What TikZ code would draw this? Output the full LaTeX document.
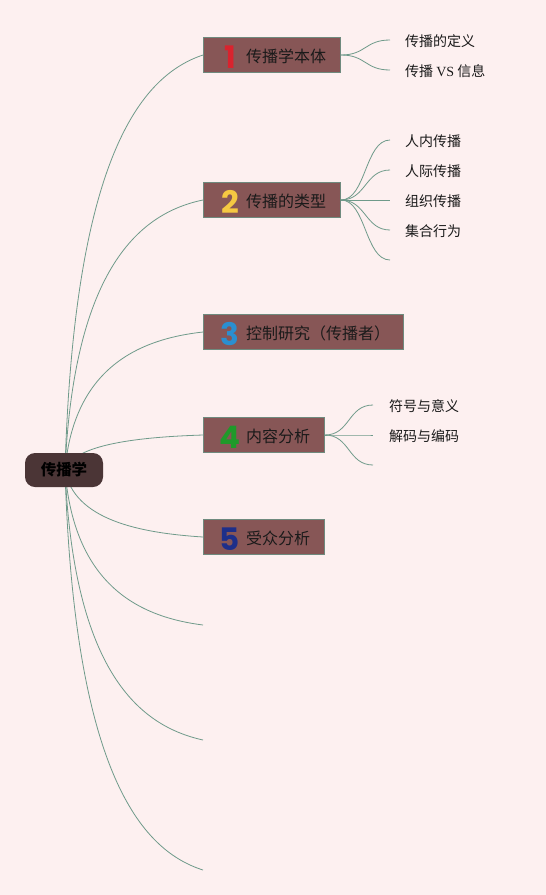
\documentclass[tikz,border=0pt]{standalone}
\usepackage{fontspec}
\setmainfont{Noto Sans CJK SC}
\newfontfamily\numfont{Poppins}[UprightFont={* Bold}]
\newfontfamily\vsfont{Liberation Serif}
\definecolor{bgc}{HTML}{FDF0F0}
\definecolor{linec}{HTML}{6F9A8A}
\definecolor{boxc}{HTML}{875656}
\definecolor{boxline}{HTML}{6F8A7E}
\definecolor{rootc}{HTML}{4B3536}
\definecolor{txtc}{HTML}{1A1A1A}
\definecolor{n1}{HTML}{D9232E}
\definecolor{n2}{HTML}{F5C842}
\definecolor{n3}{HTML}{2A8FD0}
\definecolor{n4}{HTML}{1F9A2A}
\definecolor{n5}{HTML}{1E2F8A}
\tikzset{
  conn/.style={draw=linec, line width=0.8pt},
  topic/.style={draw=boxline, line width=1pt, fill=boxc, minimum height=35pt, inner sep=0pt, anchor=west},
  numlbl/.style={font=\numfont\fontsize{31}{31}\selectfont, inner sep=0pt},
  toplbl/.style={font=\fontsize{16}{16}\selectfont, text=txtc, inner sep=0pt, anchor=west},
  sublbl/.style={font=\fontsize{14}{14}\selectfont, text=txtc, inner sep=0pt, anchor=west},
  rootbox/.style={fill=rootc, rounded corners=10pt, minimum width=78pt, minimum height=34pt, inner sep=0pt, font=\bfseries\fontsize{15.5}{15.5}\selectfont, text=black}
}
\begin{document}
\begin{tikzpicture}[x=1pt,y=-1pt]
\fill[bgc] (0,0) rectangle (546,895);
\useasboundingbox (0,0) rectangle (546,895);
\coordinate (hub) at (65,470);
% topic boxes
\node[topic, minimum width=137pt] (b1) at (203,55) {};
\node[topic, minimum width=137pt] (b2) at (203,200) {};
\node[topic, minimum width=200pt] (b3) at (203,332) {};
\node[topic, minimum width=121pt] (b4) at (203,435) {};
\node[topic, minimum width=121pt] (b5) at (203,537) {};
\node[numlbl, text=n1] (k1) at (230,57) {1};
\node[numlbl, text=n2] (k2) at (230,202) {2};
\node[numlbl, text=n3] (k3) at (230,334) {3};
\node[numlbl, text=n4] (k4) at (230,437) {4};
\node[numlbl, text=n5] (k5) at (230,539) {5};
\node[toplbl] (t1) at (246,56) {传播学本体};
\node[toplbl] (t2) at (246,201) {传播的类型};
\node[toplbl] (t3) at (246,333) {控制研究（传播者）};
\node[toplbl] (t4) at (246,436) {内容分析};
\node[toplbl] (t5) at (246,538) {受众分析};
% empty branch ends
\coordinate (e1) at (203,625);
\coordinate (e2) at (203,740);
\coordinate (e3) at (203,870);
% root curves
\draw[conn] (hub) .. controls (74,159) and (140,76) .. (b1.west);
\draw[conn] (hub) .. controls (74,268) and (140,213) .. (b2.west);
\draw[conn] (hub) .. controls (74,367) and (140,339) .. (b3.west);
\draw[conn] (hub) .. controls (74,444) and (140,437) .. (b4.west);
\draw[conn] (hub) .. controls (74,520) and (140,533) .. (b5.west);
\draw[conn] (hub) .. controls (74,586) and (140,617) .. (e1);
\draw[conn] (hub) .. controls (74,673) and (140,726) .. (e2);
\draw[conn] (hub) .. controls (74,770) and (140,850) .. (e3);
\node[rootbox] (root) at (64,470) {传播学};
% sub branches
\coordinate (c11) at (390,40);
\coordinate (c12) at (390,70);
\coordinate (c21) at (390,140);
\coordinate (c22) at (390,170);
\coordinate (c23) at (390,200);
\coordinate (c24) at (390,230);
\coordinate (c25) at (390,260);
\coordinate (c41) at (373,405);
\coordinate (c42) at (373,435);
\coordinate (c43) at (373,465);
\foreach \c in {c11,c12} \draw[conn] (b1.east) .. controls +(25,0) and +(-25,0) .. (\c);
\foreach \c in {c21,c22,c23,c24,c25} \draw[conn] (b2.east) .. controls +(25,0) and +(-25,0) .. (\c);
\foreach \c in {c41,c42,c43} \draw[conn] (b4.east) .. controls +(25,0) and +(-25,0) .. (\c);
\node[sublbl] (s11) at (405,41) {传播的定义};
\node[sublbl] (s12) at (405,71) {传播 {\vsfont VS} 信息};
\node[sublbl] (s21) at (405,141) {人内传播};
\node[sublbl] (s22) at (405,171) {人际传播};
\node[sublbl] (s23) at (405,201) {组织传播};
\node[sublbl] (s24) at (405,231) {集合行为};
\node[sublbl] (s41) at (389,406) {符号与意义};
\node[sublbl] (s42) at (389,436) {解码与编码};
\end{tikzpicture}
\end{document}
